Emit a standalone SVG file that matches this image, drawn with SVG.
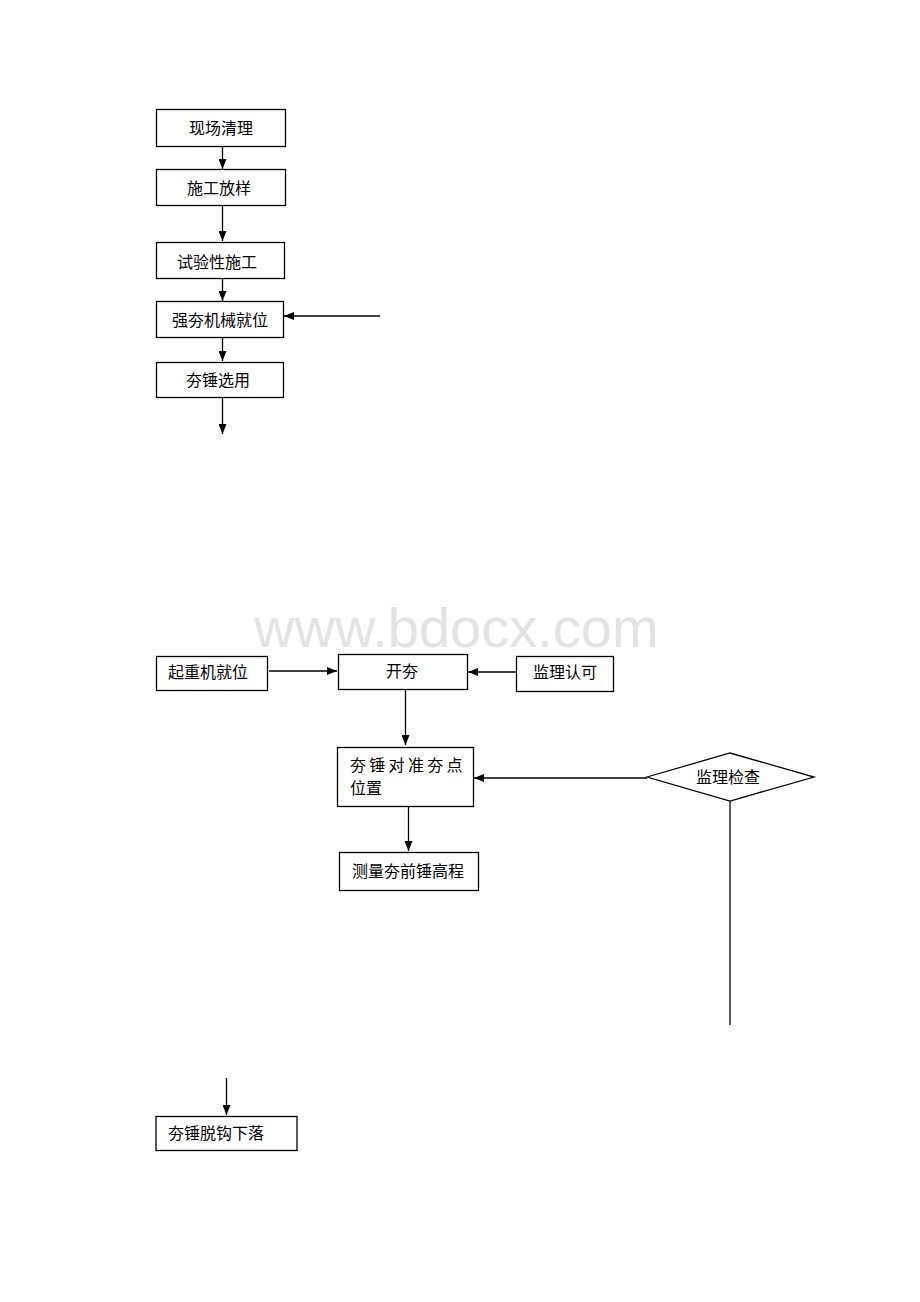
<svg xmlns="http://www.w3.org/2000/svg" width="920" height="1302" viewBox="0 0 920 1302">
<style>
.box{fill:#fff;stroke:#000;stroke-width:1.3}
.t{font-family:"Noto Sans CJK SC","Noto Sans CJK TC",sans-serif;font-size:16px;fill:#000}
.c{text-anchor:middle}
.ln{stroke:#000;stroke-width:1.3;fill:none}
.wm{font-family:"Liberation Sans",Arial,sans-serif;font-size:56px;fill:#e3e3e3}
</style>
<defs>
<marker id="ah" viewBox="0 0 10 8" refX="10" refY="4" markerWidth="10" markerHeight="8" markerUnits="userSpaceOnUse" orient="auto">
<path d="M0,0 L10,4 L0,8 Z" fill="#000"/>
</marker>
</defs>
<rect width="920" height="1302" fill="#fff"/>
<text class="wm" x="254" y="647">www.bdocx.com</text>
<g id="connectors">
<line class="ln" x1="222.5" y1="147" x2="222.5" y2="169" marker-end="url(#ah)"/>
<line class="ln" x1="222.5" y1="205" x2="222.5" y2="241" marker-end="url(#ah)"/>
<line class="ln" x1="222.5" y1="278" x2="222.5" y2="301" marker-end="url(#ah)"/>
<line class="ln" x1="380" y1="316" x2="284" y2="316" marker-end="url(#ah)"/>
<line class="ln" x1="222.5" y1="338" x2="222.5" y2="361" marker-end="url(#ah)"/>
<line class="ln" x1="222.5" y1="398" x2="222.5" y2="434" marker-end="url(#ah)"/>
<line class="ln" x1="269" y1="671" x2="337" y2="671" marker-end="url(#ah)"/>
<line class="ln" x1="516" y1="672" x2="468" y2="672" marker-end="url(#ah)"/>
<line class="ln" x1="405.5" y1="690" x2="405.5" y2="745" marker-end="url(#ah)"/>
<line class="ln" x1="647" y1="778" x2="474" y2="778" marker-end="url(#ah)"/>
<line class="ln" x1="408.5" y1="807" x2="408.5" y2="851" marker-end="url(#ah)"/>
<line class="ln" x1="730" y1="801" x2="730" y2="1025" stroke="#555"/>
<line class="ln" x1="226.5" y1="1078" x2="226.5" y2="1115" marker-end="url(#ah)"/>
</g>
<g id="n1"><rect class="box" x="156.5" y="109.5" width="129" height="37"/><text class="t c" x="221" y="134">现场清理</text></g>
<g id="n2"><rect class="box" x="156.5" y="169.5" width="129" height="36"/><text class="t c" x="219" y="194">施工放样</text></g>
<g id="n3"><rect class="box" x="156.5" y="242.5" width="128" height="36"/><text class="t c" x="217" y="268">试验性施工</text></g>
<g id="n4"><rect class="box" x="156.5" y="301.5" width="127" height="36"/><text class="t c" x="220" y="326">强夯机械就位</text></g>
<g id="n5"><rect class="box" x="156.5" y="362.5" width="127" height="35"/><text class="t c" x="218" y="386">夯锤选用</text></g>
<g id="n6"><rect class="box" x="156.5" y="656.5" width="111" height="34"/><text class="t c" x="208" y="678">起重机就位</text></g>
<g id="n7"><rect class="box" x="338.5" y="654.5" width="129" height="35"/><text class="t c" x="402" y="677">开夯</text></g>
<g id="n8"><rect class="box" x="516.5" y="656.5" width="97" height="35"/><text class="t c" x="565" y="678">监理认可</text></g>
<g id="n9"><rect class="box" x="337.5" y="747.5" width="136" height="59"/><text class="t" x="350" y="771" letter-spacing="3.3">夯锤对准夯点</text><text class="t" x="350" y="794">位置</text></g>
<g id="n10"><rect class="box" x="339.5" y="852.5" width="139" height="38"/><text class="t c" x="408" y="877">测量夯前锤高程</text></g>
<g id="n11"><polygon class="box" points="647,777 730,753 814,777 730,801"/><text class="t c" x="728" y="783">监理检查</text></g>
<g id="n12"><rect class="box" x="156" y="1116.5" width="141" height="34"/><text class="t" x="168" y="1139">夯锤脱钩下落</text></g>
</svg>
